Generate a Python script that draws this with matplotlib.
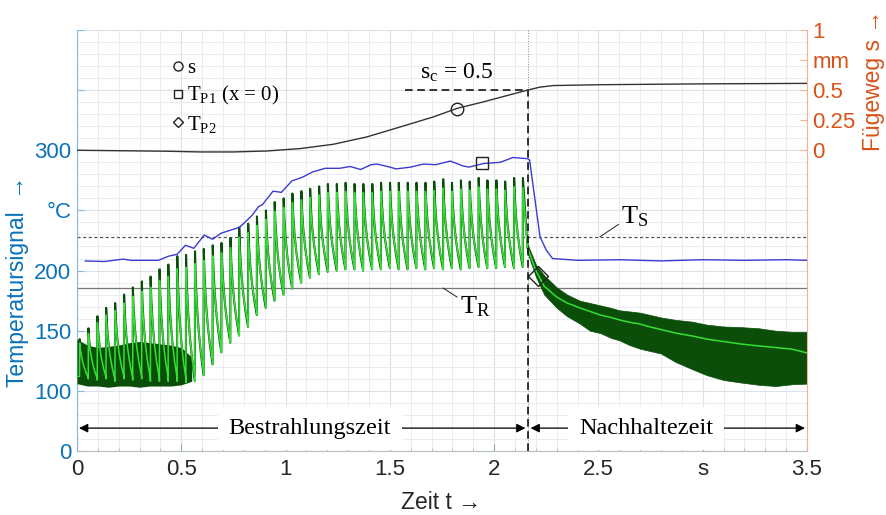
import matplotlib
matplotlib.use('Agg')
import matplotlib.pyplot as plt
from matplotlib.ticker import MultipleLocator

plt.rcParams['font.family'] = ['Liberation Sans', 'DejaVu Sans']
plt.rcParams['mathtext.fontset'] = 'custom'
plt.rcParams['mathtext.rm'] = 'Liberation Serif'
plt.rcParams['mathtext.it'] = 'Liberation Serif:italic'

# --- data ---
# Fuegeweg s (mm), right axis
s_t = [0, 0.27, 0.43, 0.59, 0.75, 0.91, 1.07, 1.23, 1.39, 1.55, 1.71, 1.82, 1.95, 2.16, 2.22, 2.285, 2.51, 3.0, 3.5]
s_val = [0, -0.005, -0.008, -0.014, -0.014, -0.006, 0.014, 0.05, 0.111, 0.194, 0.278, 0.347, 0.403, 0.5, 0.525, 0.538, 0.545, 0.552, 0.556]

# T_P1 (blue)
p1_t = [0.04, 0.13, 0.22, 0.26, 0.39, 0.44, 0.48, 0.52, 0.56, 0.61, 0.65, 0.69, 0.78, 0.84, 0.87,
        0.89, 0.94, 0.98, 1.03, 1.08, 1.13, 1.19, 1.26, 1.31, 1.36, 1.41, 1.44, 1.5, 1.53, 1.6,
        1.66, 1.72, 1.79, 1.85, 1.88, 1.95, 2.03, 2.09, 2.16, 2.17, 2.22, 2.25, 2.28, 2.4, 2.6,
        2.8, 3.0, 3.2, 3.4, 3.5]
p1_T = [208, 207.5, 209.5, 208.5, 208.5, 212, 213.5, 221, 218.5, 229.5, 226, 231, 236, 246, 253,
        255, 266, 265, 274.5, 277.5, 282, 285, 285, 286.5, 284, 288, 288.5, 286, 284.5, 286,
        288.5, 288, 291, 287, 286, 289, 290, 294, 293, 292, 228, 217, 210, 208.5, 209,
        208, 209, 208.5, 209, 208.5]

# T_P2 during irradiation: pulse times, peak values, trough values before next pulse
pulse_time = [0.012, 0.054, 0.097, 0.139, 0.182, 0.225, 0.267, 0.310, 0.352, 0.395,
              0.437, 0.480, 0.522, 0.565, 0.607, 0.650, 0.692, 0.735, 0.777, 0.820,
              0.862, 0.905, 0.947, 0.990, 1.032, 1.075, 1.117, 1.160, 1.202, 1.245,
              1.287, 1.330, 1.372, 1.415, 1.457, 1.500, 1.542, 1.585, 1.627, 1.670,
              1.712, 1.755, 1.797, 1.840, 1.882, 1.925, 1.967, 2.010, 2.052, 2.095, 2.137]
pulse_peak = [143, 152, 162, 169, 173, 180, 186, 191, 195, 201,
              205, 212, 213, 216, 218, 221, 223, 227, 236, 239,
              245, 250, 257, 260, 264, 266, 268, 270, 272, 272,
              273, 272, 272, 272, 273, 273, 273, 273, 273, 273,
              274, 276, 273, 275, 274, 277, 275, 275, 274, 277, 277]
pulse_trough = [110, 109, 110, 108, 110, 109, 110, 108, 108, 108,
                108, 107, 108, 113, 122, 132, 140, 146, 153, 163,
                169, 175, 180, 185, 190, 194, 197, 199, 200, 201,
                201, 200, 201, 201, 202, 201, 201, 202, 201, 202,
                201, 202, 201, 202, 203, 202, 202, 203, 202, 203]
# tooth profile (fraction of period, fraction of amplitude)
tooth_f = [0.02, 0.1, 0.25, 0.45, 0.7, 0.9, 1.0]
tooth_raw = [1.0, 0.78, 0.55, 0.35, 0.17, 0.06, 0.0]
tooth_filt = [0.9, 0.74, 0.54, 0.35, 0.18, 0.08, 0.03]
start_level = 112

# noise band of raw signal at the start
noise_t = [0, 0.05, 0.1, 0.15, 0.2, 0.25, 0.3, 0.35, 0.4, 0.45, 0.5, 0.55]
noise_hi = [143, 138, 136, 137, 138, 140, 141, 140, 139, 138, 136, 128]
noise_lo = [106, 104, 104, 103, 104, 104, 103, 104, 104, 104, 105, 108]

# T_P2 after irradiation (Nachhaltezeit)
post_t = [2.16, 2.2, 2.24, 2.3, 2.35, 2.41, 2.46, 2.51, 2.56, 2.6, 2.65, 2.7,
          2.75, 2.8, 2.87, 2.95, 3.02, 3.1, 3.18, 3.27, 3.35, 3.43, 3.5]
post_mean = [219, 200, 187, 178, 173, 169, 166, 163, 161, 159, 157, 155.5,
             153, 151, 148, 145.6, 143, 141, 139, 137.3, 136, 134.6, 131.5]
post_hi = [222, 205, 196, 186, 180, 175, 173, 171, 169, 167, 166, 165,
           163, 161, 159, 157.5, 155, 153.5, 153, 152, 150, 149, 149]
post_lo = [215, 195, 180, 169, 162, 156, 150, 148, 144, 142, 138, 135,
           133, 131, 124, 118, 113, 109, 107, 105, 104, 105.5, 106]

T_S = 228
T_R = 185.5
t_end_irr = 2.16
s_c = 0.5

mark_s = (1.82, 0.347)
mark_p1 = (1.94, 289.5)
mark_p2 = (2.21, 195.5)

x_ticks = [0, 0.5, 1, 1.5, 2, 2.5, 3, 3.5]
x_labels = ['0', '0.5', '1', '1.5', '2', '2.5', 's', '3.5']
y_ticks = [50, 100, 150, 200, 250, 300, 350, 400]
y_labels = ['0', '100', '150', '200', '°C', '300', '', '']
s_ticks = [0, 0.25, 0.5, 0.75, 1]
s_labels = ['0', '0.25', '0.5', 'mm', '1']

blue_ax = '#0a72ba'
orange_ax = '#d95319'
dark_green = '#0a4e0a'
light_green = '#33e033'

# --- build sawtooth of T_P2 ---
raw_t, raw_T, filt_T = [0.0], [start_level], [start_level]
prev = start_level
for i, (t, p) in enumerate(zip(pulse_time, pulse_peak)):
    raw_t.append(t)
    raw_T.append(prev)
    filt_T.append(prev)
    if i < len(pulse_trough):
        q = pulse_trough[i]
        nxt = pulse_time[i + 1]
        for f, vr, vf in zip(tooth_f, tooth_raw, tooth_filt):
            raw_t.append(t + f * (nxt - t))
            raw_T.append(q + vr * (p - q))
            filt_T.append(q + vf * (p - q))
        prev = q
    else:
        raw_t.append(t + 0.001)
        raw_T.append(p)
        filt_T.append(p - 8)
raw_t += post_t
raw_T += post_mean
filt_T += post_mean

fig = plt.figure(figsize=(8.87, 5.15), dpi=100)
ax = fig.add_axes([0.0868, 0.1243, 0.823, 0.8175])
ax2 = ax.twinx()

ax.set_xlim(0, 3.5)
ax.set_ylim(50, 400)
ax2.set_ylim(-2.5, 1.0)

# grid
ax.xaxis.set_minor_locator(MultipleLocator(0.1))
ax.yaxis.set_minor_locator(MultipleLocator(10))
ax.grid(which='minor', color='#e9edf2', lw=0.7)
ax.grid(which='major', color='#dbe1e8', lw=0.8)
ax.set_axisbelow(True)

# reference lines
ax.axhline(T_S, color='#555555', lw=0.9, ls=(0, (2.5, 2)), zorder=2)
ax.axhline(T_R, color='#777777', lw=0.9, zorder=2)

# T_P2
ax.fill_between(noise_t, noise_lo, noise_hi, color=dark_green, lw=0, zorder=3)
ax.fill_between(post_t, post_lo, post_hi, color=dark_green, lw=0.5, zorder=3)
ax.plot(raw_t, raw_T, color=dark_green, lw=1.5, zorder=3)
ax.plot(raw_t, filt_T, color=light_green, lw=1.1, zorder=4)

# T_P1
ax.plot(p1_t, p1_T, color='#3b3bd0', lw=1.0, zorder=5)

# s
ax2.plot(s_t, s_val, color='#333333', lw=1.0, zorder=5)

# markers and legend
ax2.plot(*mark_s, marker='o', ms=9, mfc='none', mec='#222222', mew=1.0, ls='none')
ax.plot(*mark_p1, marker='s', ms=9, mfc='none', mec='#222222', mew=1.0, ls='none', zorder=6)
ax.plot(*mark_p2, marker='D', ms=10, mfc='none', mec='#222222', mew=1.0, ls='none', zorder=6)
leg_h = [plt.Line2D([], [], marker='o', ms=6.5, mfc='none', mec='#222222', ls='none'),
         plt.Line2D([], [], marker='s', ms=5.5, mfc='none', mec='#222222', ls='none'),
         plt.Line2D([], [], marker='D', ms=5.5, mfc='none', mec='#222222', ls='none')]
leg = ax.legend(leg_h, ['s', r'T$_{\mathrm{P1}}$ (x = 0)', r'T$_{\mathrm{P2}}$'],
                loc='upper left', bbox_to_anchor=(0.118, 0.952), frameon=False,
                prop={'family': 'Liberation Serif', 'size': 15}, handlelength=0.6,
                handletextpad=0.15, labelspacing=0.3, borderaxespad=0)
leg.set_zorder(7)

# s_c annotation
ax2.plot([1.572, t_end_irr], [s_c, s_c], color='black', lw=1.1, ls=(0, (5, 3)))
ax.axvline(t_end_irr, color='#888888', lw=0.7, ls=':', zorder=2)
ax2.plot([t_end_irr, t_end_irr], [-2.5, s_c], color='black', lw=1.1, ls=(0, (5, 3)))
ax2.text(1.82, 0.64, r's$_{\mathrm{c}}$ = 0.5', ha='center', va='center', fontsize=17,
         family='Liberation Serif')

# T_S / T_R labels
ax.annotate(r'T$_{\mathrm{S}}$', xy=(2.507, T_S), xytext=(2.61, 239.5), fontsize=19,
            family='Liberation Serif', va='baseline',
            arrowprops=dict(arrowstyle='-', lw=0.7, color='#222222', shrinkA=0, shrinkB=0,
                            relpos=(0, 0.25)))
ax.annotate(r'T$_{\mathrm{R}}$', xy=(1.755, T_R), xytext=(1.836, 164.7), fontsize=19,
            family='Liberation Serif', va='baseline',
            arrowprops=dict(arrowstyle='-', lw=0.7, color='#222222', shrinkA=0, shrinkB=0,
                            relpos=(0, 0.8)))

# period arrows
arrow_y = 69
ax.annotate('', xy=(0.01, arrow_y), xytext=(2.15, arrow_y),
            arrowprops=dict(arrowstyle='<|-|>', color='black', lw=0.9, shrinkA=0, shrinkB=0,
                            mutation_scale=13), zorder=8)
ax.annotate('', xy=(2.175, arrow_y), xytext=(3.49, arrow_y),
            arrowprops=dict(arrowstyle='<|-|>', color='black', lw=0.9, shrinkA=0, shrinkB=0,
                            mutation_scale=13), zorder=8)
box = dict(boxstyle='square,pad=0.45', fc='white', ec='none')
ax.text(1.117, arrow_y, 'Bestrahlungszeit', ha='center', va='center', fontsize=17.5,
        family='Liberation Serif', bbox=box, zorder=9)
ax.text(2.73, arrow_y, 'Nachhaltezeit', ha='center', va='center', fontsize=17.5,
        family='Liberation Serif', bbox=box, zorder=9)

# axes styling
ax.set_xticks(x_ticks)
ax.set_xticklabels(x_labels)
ax.set_yticks(y_ticks)
ax.set_yticklabels(y_labels)
ax2.set_yticks(s_ticks)
ax2.set_yticklabels(s_labels)

for sp in ['top', 'right']:
    ax.spines[sp].set_visible(False)
for sp in ['top', 'left', 'bottom']:
    ax2.spines[sp].set_visible(False)
ax.spines['left'].set_color('#8ab8dc')
ax.spines['bottom'].set_color('#b4bcc4')
ax2.spines['right'].set_color('#f0b393')

ax.tick_params(axis='x', which='major', direction='in', length=5, color='#9aa2aa',
               labelsize=16, labelcolor='#262626', pad=6)
ax.tick_params(axis='x', which='minor', direction='in', length=2.5, color='#b4bcc4')
ax.tick_params(axis='y', which='major', direction='in', length=5, color='#8ab8dc',
               labelsize=16, labelcolor=blue_ax, pad=4)
ax.tick_params(axis='y', which='minor', length=0)
ax2.tick_params(axis='y', direction='in', length=5, color='#f0b393', labelsize=16,
                labelcolor=orange_ax, pad=4)

ax.set_xlabel('Zeit t →', fontsize=16.5, color='#262626')
ax.xaxis.set_label_coords(0.499, -0.095)
ax.set_ylabel('Temperatursignal  →', fontsize=16.5, color=blue_ax)
ax.yaxis.set_label_coords(-0.066, 0.404)
ax2.set_ylabel('Fügeweg s →', fontsize=16.5, color=orange_ax)
ax2.yaxis.set_label_coords(1.075, 0.881)

fig.savefig('out.png', dpi=100)
